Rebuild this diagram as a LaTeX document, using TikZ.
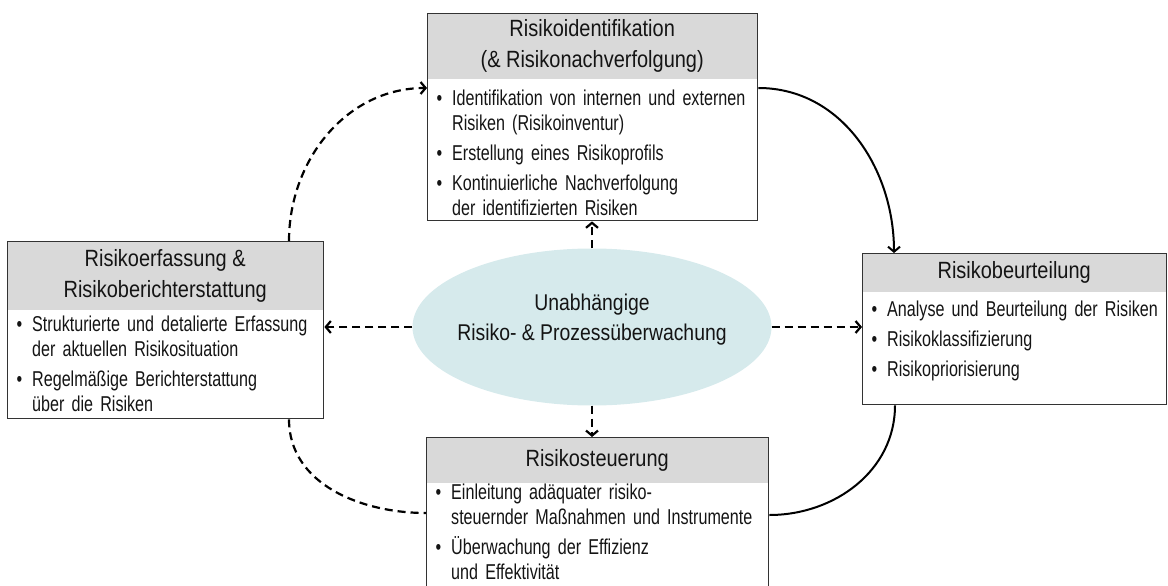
\documentclass[tikz,border=0pt]{standalone}
\usepackage{fontspec}
\setmainfont{Liberation Sans}[FakeStretch=0.75]
\newfontfamily\kopfschrift{Liberation Sans}[FakeStretch=0.85]
\usepackage{enumitem}
\usetikzlibrary{positioning,calc,shapes.geometric,arrows.meta}

\definecolor{kopfgrau}{RGB}{217,217,217}
\definecolor{rahmen}{RGB}{51,51,51}
\definecolor{ovalblau}{RGB}{214,234,236}
\definecolor{schrift}{RGB}{20,20,20}

\newcommand{\punkte}[1]{\begin{itemize}[leftmargin=25pt,labelsep=10pt,itemsep=5pt,topsep=0pt,parsep=0pt,partopsep=0pt]#1\end{itemize}}

\begin{document}
\begin{tikzpicture}[x=1pt,y=1pt,
  kopf/.style={fill=kopfgrau,anchor=north west,inner sep=0pt,text=schrift,align=center,font=\kopfschrift\fontsize{23.5}{31}\selectfont},
  box/.style={draw=rahmen,line width=1.4pt,anchor=north west,inner sep=0pt},
  inhalt/.style={text=schrift,anchor=north west,inner sep=0pt,text width=#1,font=\fontsize{21.5}{25}\selectfont},
  strich/.style={dash pattern=on 8pt off 5pt,line width=2.2pt},
  linie/.style={line width=2pt},
  >={Straight Barb[length=5pt,width=12pt]}]

\useasboundingbox (0,0) rectangle (1168,-586);

% Kasten oben
\node[kopf,minimum width=330pt,minimum height=66pt] (identkopf) at (427,-13) {Risikoidentifikation\\(\& Risikonachverfolgung)};
\node[box,minimum width=330pt,minimum height=207pt] (ident) at (427,-13) {};
\node[inhalt=330pt] (identtext) at (427,-80) {\punkte{
  \item Identifikation von internen und externen\\Risiken (Risikoinventur)
  \item Erstellung eines Risikoprofils
  \item Kontinuierliche Nachverfolgung\\der identifizierten Risiken}};

% Kasten links
\node[kopf,minimum width=316pt,minimum height=69pt] (erfasskopf) at (7,-241) {Risikoerfassung \&\\Risikoberichterstattung};
\node[box,minimum width=316pt,minimum height=177pt] (erfass) at (7,-241) {};
\node[inhalt=316pt] (erfasstext) at (7,-306) {\punkte{
  \item Strukturierte und detalierte Erfassung\\der aktuellen Risikosituation
  \item Regelmäßige Berichterstattung\\über die Risiken}};

% Kasten rechts
\node[kopf,minimum width=304pt,minimum height=39pt] (beurtkopf) at (862,-253) {Risikobeurteilung};
\node[box,minimum width=304pt,minimum height=151pt] (beurt) at (862,-253) {};
\node[inhalt=304pt] (beurttext) at (862,-291) {\punkte{
  \item Analyse und Beurteilung der Risiken
  \item Risikoklassifizierung
  \item Risikopriorisierung}};

% Kasten unten
\node[kopf,minimum width=342pt,minimum height=46pt] (steuerkopf) at (426,-437) {Risikosteuerung};
\node[box,minimum width=342pt,minimum height=170pt] (steuer) at (426,-437) {};
\node[inhalt=342pt] (steuertext) at (426,-474) {\punkte{
  \item Einleitung adäquater risiko-\\steuernder Maßnahmen und Instrumente
  \item Überwachung der Effizienz\\und Effektivität}};

% Mitte
\node[ellipse,fill=ovalblau,minimum width=359pt,minimum height=157pt,inner sep=0pt] (oval) at (592,-327) {};
\node[align=center,text=schrift,font=\kopfschrift\fontsize{22.8}{30}\selectfont] (ovaltext) at ([yshift=7pt]oval.center) {Unabhängige\\Risiko- \& Prozessüberwachung};

\draw[strich,->] (oval.north) -- (oval.north |- ident.south);
\draw[strich,->] (oval.south) -- (oval.south |- steuer.north);
\draw[strich,->] (oval.east) -- (oval.east -| beurt.west);
\draw[strich,->] (oval.west) -- (oval.west -| erfass.east);

% Kreislauf
\draw[strich,->] ([xshift=282pt]erfass.north west) to[out=90,in=180] ([yshift=-75pt]ident.north west);
\draw[linie,->] ([yshift=-75pt]ident.north east) to[out=0,in=90] ([xshift=32pt]beurt.north west);
\draw[linie] ([xshift=33pt]beurt.south west) to[out=-90,in=0] ([yshift=-78pt]steuer.north east);
\draw[strich] ([xshift=282pt]erfass.south west) to[out=-90,in=180] ([yshift=-76pt]steuer.north west);

\end{tikzpicture}
\end{document}
